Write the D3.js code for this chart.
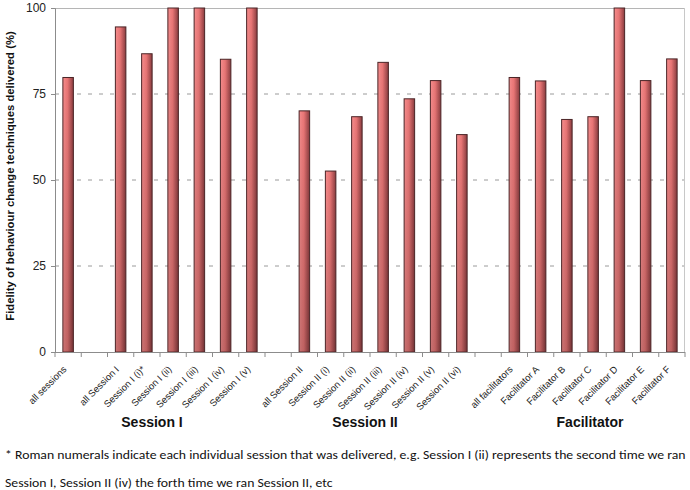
<!DOCTYPE html>
<html><head><meta charset="utf-8">
<script src="https://cdn.jsdelivr.net/npm/d3@7"></script>
<style>body{margin:0;background:#fff}svg{display:block}</style>
</head><body>
<svg id="c" width="690" height="490"></svg>
<script>
const categories = ["all sessions", "", "all Session I", "Session I (i)*", "Session I (ii)", "Session I (iii)", "Session I (iv)", "Session I (v)", "", "all Session II", "Session II (i)", "Session II (ii)", "Session II (iii)", "Session II (iv)", "Session II (v)", "Session II (vi)", "", "all facilitators", "Facilitator A", "Facilitator B", "Facilitator C", "Facilitator D", "Facilitator E", "Facilitator F"];
const values = [79.8, null, 94.5, 86.7, 100, 100, 85.1, 100, null, 70.1, 52.6, 68.4, 84.2, 73.6, 78.9, 63.2, null, 79.8, 78.8, 67.6, 68.4, 100, 78.9, 85.2];
const groupLabels = ["Session I", "Session II", "Facilitator"];
const yTicks = [0, 25, 50, 75, 100];
const yTitle = "Fidelity of behaviour change techniques delivered (%)";
const footnote = ["* Roman numerals indicate each individual session that was delivered, e.g. Session I (ii) represents the second time we ran", "Session I, Session II (iv) the forth time we ran Session II, etc"];

const svg = d3.select("#c");
const L = 55, R = 685, T = 8, B = 352;
const idx = categories.map((d, i) => i);
const x = d3.scaleBand().domain(idx).range([L, R]).paddingInner(0).paddingOuter(0);
const y = d3.scaleLinear().domain([0, 100]).range([B, T]);
const font = "Arial, 'Liberation Sans', sans-serif";

const defs = svg.append("defs");
const g = defs.append("linearGradient").attr("id", "bg").attr("x1", "0").attr("x2", "1").attr("y1", "0").attr("y2", "0");
g.append("stop").attr("offset", "0").attr("stop-color", "#f58d8d");
g.append("stop").attr("offset", "0.45").attr("stop-color", "#e87575");
g.append("stop").attr("offset", "1").attr("stop-color", "#8a3c3f");
const g2 = defs.append("linearGradient").attr("id", "vg").attr("x1", "0").attr("x2", "0").attr("y1", "0").attr("y2", "1");
g2.append("stop").attr("offset", "0").attr("stop-color", "#000").attr("stop-opacity", 0);
g2.append("stop").attr("offset", "1").attr("stop-color", "#000").attr("stop-opacity", 0.18);

// gridlines
svg.append("g").selectAll("line").data(yTicks.filter(t => t > 0 && t < 100)).join("line")
  .attr("x1", L).attr("x2", R).attr("y1", d => y(d)).attr("y2", d => y(d))
  .attr("stroke", "#9a9a9a").attr("stroke-width", 1).attr("stroke-dasharray", "4,7");

// frame top/right
svg.append("line").attr("x1", L).attr("x2", R).attr("y1", T + 0.5).attr("y2", T + 0.5).attr("stroke", "#b5b5b5");
svg.append("line").attr("x1", R - 0.5).attr("x2", R - 0.5).attr("y1", T).attr("y2", B).attr("stroke", "#c8c8c8");

// bars
const bw = 10.5;
const bars = svg.append("g");
const data = idx.filter(i => values[i] != null);
bars.selectAll("rect.b").data(data).join("rect").attr("class", "b")
  .attr("x", i => x(i) + x.bandwidth() / 2 - bw / 2)
  .attr("y", i => y(values[i]))
  .attr("width", bw)
  .attr("height", i => B - y(values[i]))
  .attr("fill", "url(#bg)")
  .attr("stroke", "#4a2426").attr("stroke-width", 1);
bars.selectAll("rect.s").data(data).join("rect").attr("class", "s")
  .attr("x", i => x(i) + x.bandwidth() / 2 - bw / 2 + 0.5)
  .attr("y", i => y(values[i]) + 0.5)
  .attr("width", bw - 1)
  .attr("height", i => B - y(values[i]) - 1)
  .attr("fill", "url(#vg)");

// y axis
const ya = svg.append("g").attr("transform", `translate(${L},0)`)
  .call(d3.axisLeft(y).tickValues(yTicks).tickSize(4).tickPadding(5));
ya.select(".domain").attr("stroke", "#8c8c8c");
ya.selectAll(".tick line").attr("stroke", "#8c8c8c");
ya.selectAll(".tick text").attr("font-family", font).attr("font-size", 12).attr("fill", "#222");

// x axis
const xa = svg.append("g").attr("transform", `translate(0,${B})`);
xa.append("line").attr("x1", L).attr("x2", R).attr("y1", 0.5).attr("y2", 0.5).attr("stroke", "#8c8c8c");
const bounds = idx.map(i => x(i)).concat([R]);
xa.selectAll("line.t").data(bounds).join("line").attr("class", "t")
  .attr("x1", d => d).attr("x2", d => d).attr("y1", 0).attr("y2", 5).attr("stroke", "#8c8c8c");
xa.selectAll("text").data(idx.filter(i => categories[i] !== "")).join("text")
  .attr("transform", i => `translate(${x(i) + x.bandwidth() / 2 - 1},${18}) rotate(-45)`)
  .attr("text-anchor", "end")
  .attr("font-family", font).attr("font-size", 9.5).attr("fill", "#222")
  .text(i => categories[i]);

// y title
svg.append("text").attr("transform", `translate(14,176) rotate(-90)`)
  .attr("text-anchor", "middle").attr("font-family", font)
  .attr("font-size", 11.3).attr("font-weight", "bold").attr("fill", "#111").text(yTitle);

// group labels
const groupX = [152, 365, 590];
svg.append("g").selectAll("text").data(groupLabels).join("text")
  .attr("x", (d, k) => groupX[k])
  .attr("y", 427).attr("text-anchor", "middle")
  .attr("font-family", font).attr("font-size", 14).attr("font-weight", "bold").attr("fill", "#111")
  .text(d => d);

// footnote
const fg = svg.append("g");
const ft = fg.selectAll("text").data(footnote).join("text")
  .attr("x", 0).attr("y", (d, k) => 459 + k * 28)
  .attr("font-family", "Carlito, 'Liberation Sans Narrow', 'Open Sans', sans-serif").attr("font-size", 13).attr("fill", "#111")
  .text(d => d);
const w0 = ft.nodes()[0].getComputedTextLength();
const k = 681 / w0;
fg.attr("transform", `translate(5,0) scale(${k},1)`);
</script>
</body></html>
